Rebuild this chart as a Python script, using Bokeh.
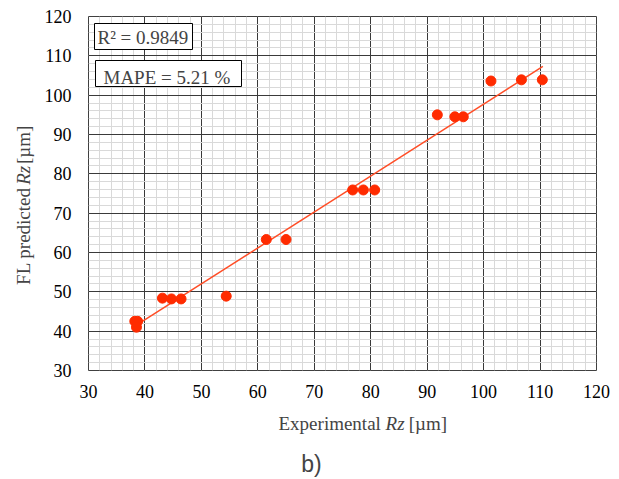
import math
from bokeh.plotting import figure
from bokeh.layouts import column, row
from bokeh.models import Label, SingleIntervalTicker, Range1d
from bokeh.embed import file_html
from bokeh.resources import INLINE

# ---- data ----
exp_rz = [38.2, 38.7, 38.5, 43.1, 44.7, 46.4, 54.4, 61.5, 65.0, 76.8, 78.7, 80.7,
          91.8, 94.9, 96.4, 101.3, 106.7, 110.4]
fl_rz = [42.5, 42.5, 41.0, 48.4, 48.2, 48.2, 48.9, 63.3, 63.3, 75.9, 75.9, 75.9,
         95.0, 94.5, 94.5, 103.6, 103.9, 103.9]
trend_x = [38.7, 110.5]
trend_y = [41.7, 107.3]
r2_text = "R² = 0.9849"
mape_text = "MAPE = 5.21 %"
x_title = ["Experimental", "Rz", "[µm]"]
y_title = ["FL predicted", "Rz", "[µm]"]
panel_tag = "b)"

SERIF = "Liberation Serif"

# ---- layout (page pixels) ----
PAGE_W, PAGE_H = 619, 479
YLAB_W = 40
MAIN_H = 410
FL, FR, FT, FB = 88, 596, 16, 370          # frame edges on the page
X0, X1, Y0, Y1 = 30, 120, 30, 120
MAIN_W = PAGE_W - YLAB_W


def dx(px):
    return X0 + (px - FL) * (X1 - X0) / (FR - FL)


def dy(py):
    return Y0 + (FB - py) * (Y1 - Y0) / (FB - FT)


p = figure(width=MAIN_W, height=MAIN_H, output_backend="svg", toolbar_location=None,
           x_range=Range1d(X0, X1), y_range=Range1d(Y0, Y1),
           min_border_left=FL - YLAB_W, min_border_right=PAGE_W - FR,
           min_border_top=FT, min_border_bottom=MAIN_H - FB)
p.background_fill_color = "white"
p.border_fill_color = "white"
p.outline_line_color = "#404040"
p.outline_line_width = 1

for ax in (p.xaxis[0], p.yaxis[0]):
    ax.ticker = SingleIntervalTicker(interval=10, num_minor_ticks=5)
    ax.axis_line_color = None
    ax.major_tick_line_color = None
    ax.minor_tick_line_color = None
    ax.major_tick_out = 0
    ax.major_tick_in = 0
    ax.minor_tick_out = 0
    ax.major_label_text_font = SERIF
    ax.major_label_text_font_size = "18px"
    ax.major_label_text_color = "#000000"
p.xaxis.major_label_standoff = 14
p.yaxis.major_label_standoff = 17

for g in (p.xgrid[0], p.ygrid[0]):
    g.grid_line_color = "#3a3a3a"
    g.grid_line_width = 1
    g.minor_grid_line_color = "#d9d9d9"
    g.minor_grid_line_width = 1

# trend line and points
p.line(trend_x, trend_y, line_color="#ff4d26", line_width=1.5)
p.scatter(exp_rz, fl_rz, size=10, fill_color="#ff2b00", line_color="#ff2b00")

fs = 19
SHIFT = 7   # baseline -> centre of text box


def ctr(text, font="Liberation Serif", size=fs, style="normal", angle=0.0, **kw):
    return Label(text=text, text_font=font, text_font_size=f"{size}px",
                 text_font_style=style, angle=angle,
                 text_align="center", text_baseline="middle", **kw)


# text boxes
p.quad(left=[dx(94), dx(95)], right=[dx(192), dx(241)],
       top=[dy(23), dy(60)], bottom=[dy(49), dy(86)],
       fill_color="white", line_color="black", line_width=1)
p.add_layout(ctr(r2_text, x=dx(97 + 4.781 * fs / 2), y=dy(43.5 - SHIFT)))
p.add_layout(ctr(mape_text, x=dx(103 + 6.675 * fs / 2), y=dy(84 - SHIFT)))


def blank(w, h):
    f = figure(width=w, height=h, output_backend="svg", toolbar_location=None,
               x_range=Range1d(0, w), y_range=Range1d(0, h),
               x_axis_type=None, y_axis_type=None,
               min_border_left=0, min_border_right=0, min_border_top=0, min_border_bottom=0)
    f.outline_line_color = None
    f.background_fill_color = "white"
    f.border_fill_color = "white"
    return f


# y axis title (rotated, mixed styles); page targets for the piece centres,
# corrected for the vertical compression observed in this narrow panel
ylab = blank(YLAB_W, MAIN_H)
ycx = 30 - SHIFT
rot = math.pi / 2
targets = [243.0, 176.2, 142.6]
A, B = 0.95, 1.4


def yc(t):
    return MAIN_H - (t - B) / A


ylab.add_layout(ctr(y_title[0], angle=rot, x=ycx, y=yc(targets[0])))
ylab.add_layout(ctr(y_title[1], angle=rot, style="italic", x=ycx, y=yc(targets[1])))
ylab.add_layout(ctr(y_title[2], angle=rot, x=ycx, y=yc(targets[2])))

# x axis title and panel tag
XLAB_H = PAGE_H - MAIN_H
xlab = blank(PAGE_W, XLAB_H)
xs = 278
xcy = PAGE_H - (430 - SHIFT)
xlab.add_layout(ctr(x_title[0], x=xs + 5.388 * fs / 2, y=xcy))
xlab.add_layout(ctr(x_title[1], style="italic", x=xs + 5.638 * fs + 0.5 * fs, y=xcy))
xlab.add_layout(ctr(x_title[2], x=xs + 6.888 * fs + 1.944 * fs / 2, y=xcy))
xlab.add_layout(ctr(panel_tag, font="Liberation Sans", size=23, x=311, y=PAGE_H - 463))

layout = column(row(ylab, p, spacing=0), xlab, spacing=0)
open("out.html", "w").write(file_html(layout, INLINE))
